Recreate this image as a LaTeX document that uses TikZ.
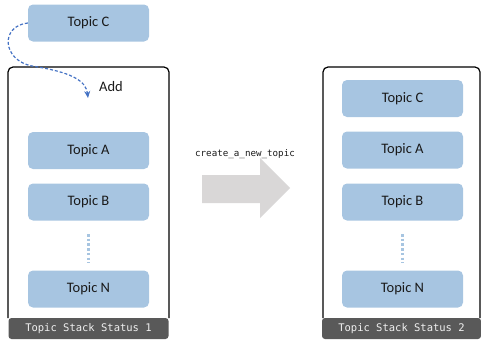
\documentclass[tikz,border=0pt]{standalone}
\usepackage{fontspec}
\setmainfont{Carlito}
\setmonofont{DejaVu Sans Mono}
\usetikzlibrary{arrows.meta}
\definecolor{topicblue}{HTML}{A7C5E1}
\definecolor{dotblue}{HTML}{A7C5E1}
\definecolor{arrowblue}{HTML}{4472C4}
\definecolor{bargray}{HTML}{595959}
\definecolor{biggray}{HTML}{D9D7D7}
\definecolor{txt}{HTML}{1A1A1A}
\tikzset{
  topic/.style={draw=none, fill=topicblue, rounded corners=5pt, minimum width=121pt, minimum height=37pt, inner sep=0pt, font=\fontsize{14.5}{16}\selectfont, text=txt},
  container/.style={draw=black, line width=1.2pt, rounded corners=5pt},
  statusbar/.style={fill=bargray, draw=none, rounded corners=3pt, minimum width=160pt, minimum height=21pt, inner sep=0pt, text=white!88!gray, font=\ttfamily\fontsize{10.5}{12}\selectfont},
  dots/.style={draw=dotblue, line width=3pt, dash pattern=on 2.5pt off 2.2pt},
}
\begin{document}
\begin{tikzpicture}[x=1pt,y=-1pt]
\useasboundingbox (0,0) rectangle (481,343);
% left container
\draw[container] (8,318) -- (8,67) -- (169,67) -- (169,318);
\node[statusbar] (bar1) at (88.5,328.5) {Topic Stack Status 1};
% right container
\draw[container] (323,318) -- (323,67) -- (480,67) -- (480,318);
\node[statusbar, minimum width=159pt] (bar2) at (401.5,328.5) {Topic Stack Status 2};

% left topics
\node[topic] (tc0) at (88.5,23) {Topic C};
\node[topic] (ta1) at (88.5,150.5) {Topic A};
\node[topic] (tb1) at (88.5,202) {Topic B};
\node[topic] (tn1) at (88.5,289) {Topic N};
\coordinate (d1a) at (88.5,234);
\coordinate (d1b) at (88.5,263);
\draw[dots] (d1a) -- (d1b);

% right topics
\node[topic] (tc2) at (402.5,98.5) {Topic C};
\node[topic] (ta2) at (402.5,150) {Topic A};
\node[topic] (tb2) at (402.5,202) {Topic B};
\node[topic] (tn2) at (402.5,289) {Topic N};
\coordinate (d2a) at (402.5,234);
\coordinate (d2b) at (402.5,263);
\draw[dots] (d2a) -- (d2b);

% add arrow
\node[font=\fontsize{14.5}{16}\selectfont, text=txt] (add) at (111,87) {Add};
\coordinate (addtip) at (88,98);
\draw[arrowblue, line width=1.2pt, dash pattern=on 3pt off 2pt, -{Stealth[length=7pt,width=6pt]}]
  (tc0.west) .. controls (0,26) and (2,60) .. (32,66) .. controls (70,72) and (86,80) .. (addtip);

% big gray arrow
\fill[biggray] (202,175) -- (260,175) -- (260,158) -- (290,188) -- (260,218) -- (260,203) -- (202,203) -- cycle;
\node[font=\ttfamily\fontsize{9.2}{11}\selectfont, text=txt] (cmd) at (245,154) {create\_a\_new\_topic};
\end{tikzpicture}
\end{document}
